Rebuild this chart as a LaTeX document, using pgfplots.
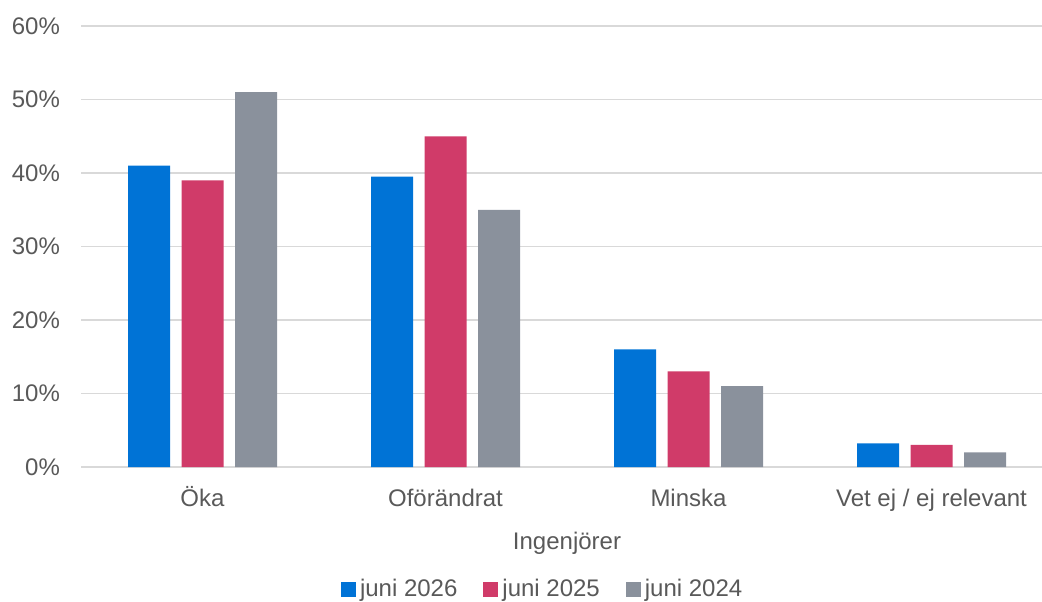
\documentclass[border=0pt]{standalone}
\usepackage{pgfplots}
\pgfplotsset{compat=1.18}
\usepackage{fontspec}
\setmainfont{Liberation Sans}
\definecolor{cblue}{HTML}{0073D6}
\definecolor{cred}{HTML}{D03B69}
\definecolor{cgray}{HTML}{8A919C}
\definecolor{ctext}{HTML}{595959}
\definecolor{cgrid}{HTML}{D9D9D9}
\begin{document}
\begin{tikzpicture}
\path[use as bounding box] (-40.5pt,-67pt) rectangle (480.5pt,233.5pt);
\begin{axis}[
  at={(0,0)}, anchor=south west,
  scale only axis, width=486pt, height=220.5pt,
  ybar=5.75pt, bar width=21pt,
  xmin=-0.5, xmax=3.5, ymin=0, ymax=60,
  xtick={0,1,2,3},
  xticklabels={Öka,Oförändrat,Minska,Vet ej / ej relevant},
  ytick={0,10,20,30,40,50,60},
  yticklabel={\pgfmathprintnumber{\tick}\%},
  /pgf/number format/assume math mode=true,
  font=\fontsize{12pt}{14pt}\selectfont,
  tick label style={text=ctext},
  yticklabel style={xshift=-7pt},
  xticklabel style={text height=11pt, text depth=3pt, yshift=-5pt},
  major tick length=0pt,
  axis line style={draw=none},
  ymajorgrids, grid style={cgrid, line width=0.75pt},
  extra y ticks={0}, extra y tick labels={},
  extra y tick style={grid style={cgrid, line width=0.9pt}},
  xlabel={Ingenjörer}, xlabel style={text=ctext, yshift=-3pt},
  legend columns=3,
  legend style={draw=none, at={(0.476,-0.277)}, anchor=center,
    font=\fontsize{12pt}{14pt}\selectfont, text=ctext,
    nodes={inner xsep=2pt},
    /tikz/every even column/.append style={column sep=11pt}},
  legend image code/.code={\fill[#1] (0pt,-3.75pt) rectangle (7.5pt,3.75pt);},
  every axis plot/.append style={draw=none},
]
\addplot[fill=cblue] coordinates {(0,41) (1,39.5) (2,16) (3,3.2)};
\addplot[fill=cred] coordinates {(0,39) (1,45) (2,13) (3,3)};
\addplot[fill=cgray] coordinates {(0,51) (1,35) (2,11) (3,2)};
\legend{juni 2026, juni 2025, juni 2024}
\end{axis}
\end{tikzpicture}
\end{document}
